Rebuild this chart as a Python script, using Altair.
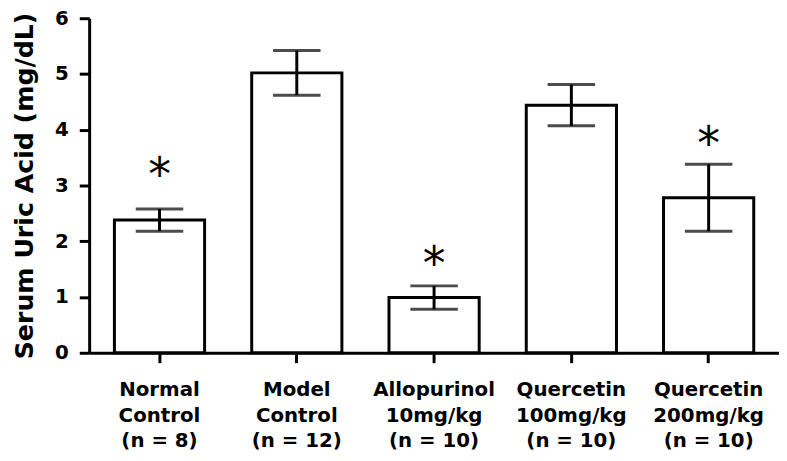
import altair as alt
import pandas as pd

groups = ["Normal\nControl\n(n = 8)", "Model\nControl\n(n = 12)",
          "Allopurinol\n10mg/kg\n(n = 10)", "Quercetin\n100mg/kg\n(n = 10)",
          "Quercetin\n200mg/kg\n(n = 10)"]
means = [2.38, 5.02, 0.99, 4.44, 2.78]
sems = [0.20, 0.40, 0.21, 0.37, 0.60]
star_groups = ["Normal\nControl\n(n = 8)", "Allopurinol\n10mg/kg\n(n = 10)",
               "Quercetin\n200mg/kg\n(n = 10)"]
star_values = [3.32, 1.73, 3.89]
y_ticks = [0, 1, 2, 3, 4, 5, 6]

df = pd.DataFrame({"group": groups, "mean": means, "sem": sems})
df["lo"] = df["mean"] - df["sem"]
df["hi"] = df["mean"] + df["sem"]
stars = pd.DataFrame({"group": star_groups, "y": star_values, "t": ["*"] * len(star_groups)})

FONT = "DejaVu Sans"

xenc = alt.X("group:N", sort=groups,
             scale=alt.Scale(paddingInner=0.343, paddingOuter=0.184),
             axis=alt.Axis(title=None, labelAngle=0, labelExpr="split(datum.label, '\\n')",
                           labelFont=FONT, labelFontWeight="bold", labelFontSize=20,
                           labelColor="black", labelLineHeight=26, labelPadding=17,
                           domainColor="black", domainWidth=3, tickColor="black",
                           tickWidth=3, tickSize=10, labelBaseline="top"))
yscale = alt.Scale(domain=[0, 6], nice=False)

base = alt.Chart(df)
bars = base.mark_bar(fill="white", stroke="black", strokeWidth=3).encode(
    x=xenc,
    y=alt.Y("mean:Q", scale=yscale,
            axis=alt.Axis(title="Serum Uric Acid (mg/dL)", values=y_ticks, grid=False,
                          format="d",
                          labelFont=FONT, labelFontWeight="bold", labelFontSize=20,
                          labelColor="black", labelPadding=11,
                          titleFont=FONT, titleFontWeight="bold", titleFontSize=25.5,
                          titleColor="black", titlePadding=17,
                          domainColor="black", domainWidth=3, tickColor="black",
                          tickWidth=3, tickSize=10)),
)
rules = base.mark_rule(color="black", strokeWidth=3).encode(
    x=alt.X("group:N", sort=groups), y=alt.Y("lo:Q", scale=yscale), y2="hi:Q")
caps_hi = base.mark_tick(color="black", thickness=3, size=48, orient="horizontal").encode(
    x=alt.X("group:N", sort=groups), y=alt.Y("hi:Q", scale=yscale))
caps_lo = base.mark_tick(color="black", thickness=3, size=48, orient="horizontal").encode(
    x=alt.X("group:N", sort=groups), y=alt.Y("lo:Q", scale=yscale))
star_text = alt.Chart(stars).mark_text(font=FONT, fontSize=46, color="black",
                                       baseline="alphabetic", dy=23).encode(
    x=alt.X("group:N", sort=groups), y=alt.Y("y:Q", scale=yscale), text="t:N")

chart = alt.layer(bars, rules, caps_hi, caps_lo, star_text).properties(
    width=697, height=338,
    autosize=alt.AutoSizeParams(type="none"),
    padding={"left": 82, "top": 8, "right": 0, "bottom": 106},
    background="white",
).configure_view(strokeWidth=0)

chart.save("out.html", embed_options={"renderer": "svg", "actions": False})
